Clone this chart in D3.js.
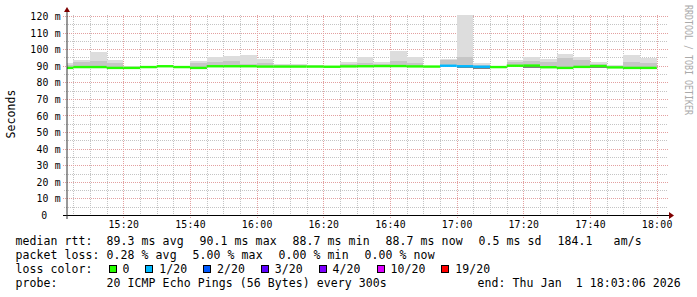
<!DOCTYPE html>
<html>
<head>
<meta charset="utf-8">
<script src="https://cdn.jsdelivr.net/npm/d3@7"></script>
<style>
body{margin:0;background:#fff}
svg{display:block}
text{font-family:"DejaVu Sans Mono",monospace;fill:#000;white-space:pre}
</style>
</head>
<body>
<svg id="graph" width="697" height="297"></svg>
<script>
// 5 minute steps, smokeping style (boundaries, one more than the values)
var stepTimes = ["15:03:06","15:05:00","15:10:00","15:15:00","15:20:00","15:25:00","15:30:00","15:35:00",
  "15:40:00","15:45:00","15:50:00","15:55:00","16:00:00","16:05:00","16:10:00","16:15:00","16:20:00",
  "16:25:00","16:30:00","16:35:00","16:40:00","16:45:00","16:50:00","16:55:00","17:00:00","17:05:00",
  "17:10:00","17:15:00","17:20:00","17:25:00","17:30:00","17:35:00","17:40:00","17:45:00","17:50:00",
  "17:55:00","18:00:00"];
var graphStart = "15:03:06", graphEnd = "18:03:06";

var median = [88.7,89.2,89.2,88.7,88.7,89.2,89.7,89.2,88.7,89.7,89.7,89.7,89.5,89.5,89.5,89.5,89.4,89.6,
  89.7,89.8,89.8,89.6,89.5,90.0,89.7,89.4,89.2,90.0,90.1,89.1,88.7,89.3,89.8,89.0,88.7,88.7];
var smokeMax = [91.6,93.5,98.5,93.5,89.8,89.9,90.2,89.7,93.0,95.0,96.0,96.5,94.0,91.0,91.0,90.5,89.8,92.3,
  95.3,92.3,99.0,95.3,89.9,94.0,120.6,91.8,89.8,93.5,95.0,94.0,97.0,95.5,92.0,90.3,96.5,94.5];
var smokeMid = [90.5,92.0,93.0,91.5,89.4,89.5,89.9,89.4,91.5,92.0,93.0,91.0,91.5,90.4,90.5,90.0,89.6,91.2,
  91.5,90.8,93.0,91.5,89.7,93.5,95.3,90.5,89.5,92.0,93.0,92.0,94.5,93.5,90.8,89.8,92.0,91.5];
var smokeMin = [88.3,88.8,88.8,88.3,88.3,88.8,89.3,88.8,88.3,89.3,89.3,89.3,89.1,89.1,89.1,89.1,89.0,89.2,
  89.3,89.4,89.4,89.2,89.1,89.6,88.4,87.9,88.8,89.6,88.6,88.7,88.2,88.9,88.4,88.6,88.3,88.3];
var lossCount = [0,0,0,0,0,0,0,0,0,0,0,0,0,0,0,0,0,0,0,0,0,0,0,1,1,1,0,0,0,0,0,0,0,0,0,0];

var lossLabels = ["0","1/20","2/20","3/20","4/20","10/20","19/20"];
var lossSteps = [0,1,2,3,4,10,19];
var lossColors = ["#26ff00","#00b8ff","#0059ff","#5e00ff","#7e00ff","#dd00ff","#ff0000"];

var rttStats = ["89.3 ms avg","90.1 ms max","88.7 ms min","88.7 ms now","0.5 ms sd","184.1   am/s"];
var lossStats = ["0.28 % avg","5.00 % max","0.00 % min","0.00 % now"];
var probeText = "20 ICMP Echo Pings (56 Bytes) every 300s";
var endText = "end: Thu Jan  1 18:03:06 2026";

var svg = d3.select("#graph");
var parseTime = d3.timeParse("%H:%M:%S");
var times = stepTimes.map(parseTime);

var x = d3.scaleTime().domain([parseTime(graphStart), parseTime(graphEnd)]).range([67, 667]);
var y = d3.scaleLinear().domain([0, d3.max(smokeMax)]).range([215, 15]);

function loss_color(n){
  var idx = 0;
  lossSteps.forEach(function(s, i){ if(n >= s) idx = i; });
  return lossColors[idx];
}

// grid
var grid = svg.append("g").attr("shape-rendering","crispEdges").attr("stroke-dasharray","1,1");
var minorX = x.ticks(d3.timeMinute.every(5)).filter(function(d){ return d.getMinutes() % 20 != 0; });
var majorX = x.ticks(d3.timeMinute.every(20));
var minorY = y.ticks(24).filter(function(d){ return d % 10 != 0; });
var majorY = y.ticks(12).filter(function(d){ return d > 0; });

grid.selectAll(".vmin").data(minorX).enter().append("line")
  .attr("x1", function(d){ return Math.round(x(d)) + 0.5; })
  .attr("x2", function(d){ return Math.round(x(d)) + 0.5; })
  .attr("y1", 15).attr("y2", 217).attr("stroke","#c4c4c4");
grid.selectAll(".hmin").data(minorY).enter().append("line")
  .attr("y1", function(d){ return Math.round(y(d)) + 0.5; })
  .attr("y2", function(d){ return Math.round(y(d)) + 0.5; })
  .attr("x1", 64).attr("x2", 668).attr("stroke","#c4c4c4");
grid.selectAll(".vmaj").data(majorX).enter().append("line")
  .attr("x1", function(d){ return Math.round(x(d)) + 0.5; })
  .attr("x2", function(d){ return Math.round(x(d)) + 0.5; })
  .attr("y1", 15).attr("y2", 218).attr("stroke","#e3a0a0");
grid.selectAll(".hmaj").data(majorY).enter().append("line")
  .attr("y1", function(d){ return Math.round(y(d)) + 0.5; })
  .attr("y2", function(d){ return Math.round(y(d)) + 0.5; })
  .attr("x1", 63).attr("x2", 668).attr("stroke","#e3a0a0");

// smoke
var steps = d3.range(median.length);
var smoke = svg.append("g").attr("shape-rendering","crispEdges");
function smoke_band(lo, hi, color){
  smoke.selectAll(null).data(steps).enter().append("rect")
    .attr("x", function(i){ return x(times[i]); })
    .attr("width", function(i){ return x(times[i+1]) - x(times[i]); })
    .attr("y", function(i){ return y(hi[i]); })
    .attr("height", function(i){ return Math.max(0, y(lo[i]) - y(hi[i])); })
    .attr("fill", color);
}
smoke_band(smokeMid, smokeMax, "#dddddd");
smoke_band(median, smokeMid, "#c6c6c6");
smoke_band(smokeMin, median, "#808080");

// median rtt, coloured by loss
svg.append("g").selectAll("line").data(steps).enter().append("line")
  .attr("x1", function(i){ return x(times[i]); })
  .attr("x2", function(i){ return x(times[i+1]); })
  .attr("y1", function(i){ return y(median[i]); })
  .attr("y2", function(i){ return y(median[i]); })
  .attr("stroke", function(i){ return loss_color(lossCount[i]); })
  .attr("stroke-width", 2.4);

// axes
var xAxis = svg.append("g").attr("transform","translate(0,215)")
  .call(d3.axisBottom(x).ticks(d3.timeMinute.every(20)).tickFormat(d3.timeFormat("%H:%M")).tickSize(0));
xAxis.select(".domain").remove();
xAxis.selectAll("text").attr("y", 13.3).attr("dy", null)
  .style("font-family","DejaVu Sans Mono").style("font-size","9.8px").style("letter-spacing","0.25px");

var yAxis = svg.append("g")
  .call(d3.axisLeft(y).ticks(12).tickFormat(function(d){ return d ? d + " m" : "0"; }).tickSize(0));
yAxis.select(".domain").remove();
yAxis.selectAll("text")
  .attr("x", function(d){ return d ? 61 : 47.5; })
  .attr("dy", "0.36em")
  .style("font-family","DejaVu Sans Mono").style("font-size","9.8px").style("letter-spacing","0.25px");

svg.append("line").attr("x1", 63).attr("x2", 669).attr("y1", 215.5).attr("y2", 215.5)
  .attr("stroke","#000").attr("shape-rendering","crispEdges");
svg.append("line").attr("x1", 67).attr("x2", 67).attr("y1", 219).attr("y2", 11)
  .attr("stroke","#333");
svg.append("path").attr("d","M64,12L70,12L67,7Z").attr("fill","#7f0000");
svg.append("path").attr("d","M669,212L669,219L674,215.5Z").attr("fill","#7f0000");

// titles
svg.append("text").attr("transform","translate(14.5,114) rotate(-90)")
  .attr("text-anchor","middle").style("font-size","11.5px").style("letter-spacing","0.1px")
  .text("Seconds");
svg.append("text").attr("transform","translate(685,5) rotate(90)")
  .style("font-size","10px").style("fill","#aaaaaa")
  .attr("textLength", 110).attr("lengthAdjust","spacingAndGlyphs")
  .text("RRDTOOL / TOBI OETIKER");

// legend
var legend = svg.append("g").style("font-size","11.5px").style("letter-spacing","0.08px");
var rowY = [244.8, 258.9, 273, 287.1];
var rowNames = ["median rtt:","packet loss:","loss color:","probe:"];
rowNames.forEach(function(t, i){
  legend.append("text").attr("x", 15.4).attr("y", rowY[i]).text(t);
});
var px = 106.6;
rttStats.forEach(function(t){
  legend.append("text").attr("x", px).attr("y", rowY[0]).text(t);
  px += (t.length + 2) * 7 + 2;
});
px = 106.6;
lossStats.forEach(function(t){
  legend.append("text").attr("x", px).attr("y", rowY[1]).text(t);
  px += (t.length + 2) * 7 + 2;
});
px = 108.5;
lossLabels.forEach(function(t, i){
  legend.append("rect").attr("x", px + 0.5).attr("y", 265.5).attr("width", 7).attr("height", 7)
    .attr("fill", lossColors[i]).attr("stroke","#000").attr("shape-rendering","crispEdges");
  legend.append("text").attr("x", px + 13.9).attr("y", rowY[2]).text(t);
  px += 14.6 + t.length * 7 + 15.2;
});
legend.append("text").attr("x", 106.6).attr("y", rowY[3]).text(probeText);
legend.append("text").attr("x", 477.6).attr("y", rowY[3]).text(endText);
</script>
</body>
</html>
